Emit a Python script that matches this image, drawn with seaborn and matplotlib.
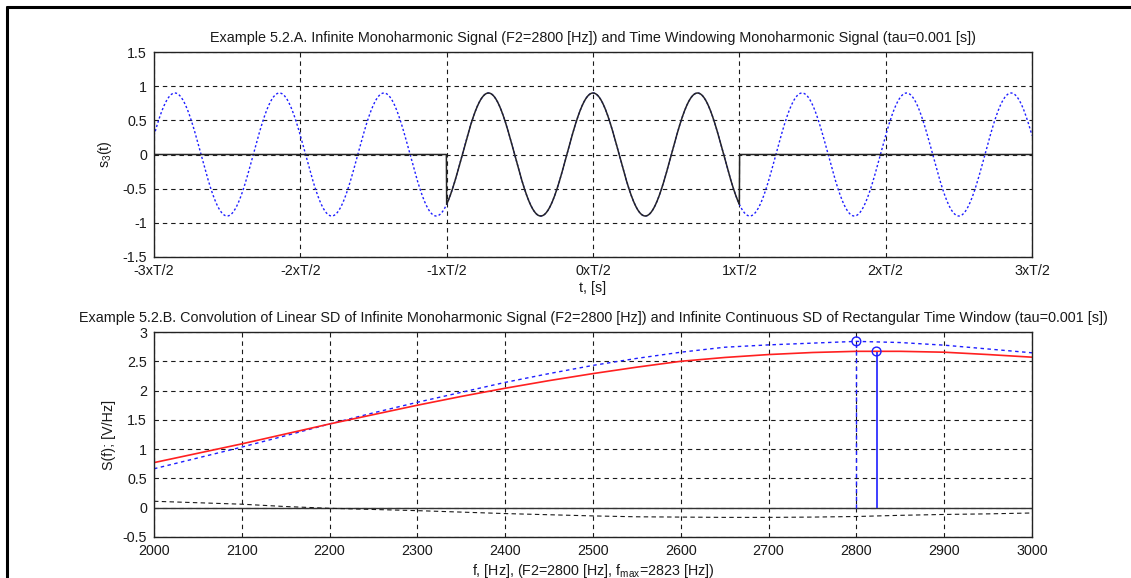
import numpy as np
import pandas as pd
import matplotlib
matplotlib.use("Agg")
import matplotlib.pyplot as plt
from matplotlib.lines import Line2D
import seaborn as sns

# ---------------- data ----------------
# top panel: signal parameters (taken from the chart titles)
F2 = 2800.0          # Hz
tau = 0.001          # s  (window length T)
amp = 0.9            # peak amplitude
t_multiples = [-3, -2, -1, 0, 1, 2, 3]
t_tick_labels = ["-3xT/2", "-2xT/2", "-1xT/2", "0xT/2", "1xT/2", "2xT/2", "3xT/2"]
s_ticks = [-1.5, -1, -0.5, 0, 0.5, 1, 1.5]
s_tick_labels = ["-1.5", "-1", "-0.5", "0", "0.5", "1", "1.5"]

# bottom panel: spectral densities
freq = [2000, 2050, 2100, 2150, 2200, 2250, 2300, 2350, 2400, 2450, 2500,
        2550, 2600, 2650, 2700, 2750, 2800, 2850, 2900, 2950, 3000]
sd_conv = [0.77, 0.93, 1.09, 1.26, 1.43, 1.59, 1.75, 1.90, 2.04, 2.17, 2.29,
           2.40, 2.50, 2.565, 2.615, 2.65, 2.67, 2.67, 2.655, 2.615, 2.57]
sd_window = [0.665, 0.85, 1.035, 1.23, 1.43, 1.62, 1.80, 1.97, 2.14, 2.29, 2.43,
             2.55, 2.655, 2.74, 2.78, 2.81, 2.84, 2.82, 2.775, 2.71, 2.645]
sd_diff = [0.11, 0.085, 0.06, 0.02, -0.01, -0.03, -0.05, -0.075, -0.10, -0.12, -0.14,
           -0.155, -0.16, -0.165, -0.165, -0.16, -0.15, -0.13, -0.115, -0.105, -0.09]
peak_f = [2800, 2823]
peak_S = [2.84, 2.667]
f_ticks = [2000, 2100, 2200, 2300, 2400, 2500, 2600, 2700, 2800, 2900, 3000]
S_ticks = [-0.5, 0, 0.5, 1, 1.5, 2, 2.5, 3]
S_tick_labels = ["-0.5", "0", "0.5", "1", "1.5", "2", "2.5", "3"]

title_a = ("Example 5.2.A. Infinite Monoharmonic Signal (F2=2800 [Hz]) and Time "
           "Windowing Monoharmonic Signal (tau=0.001 [s])")
title_b = ("Example 5.2.B. Convolution of Linear SD of Infinite Monoharmonic Signal "
           "(F2=2800 [Hz]) and Infinite Continuous SD of Rectangular Time Window (tau=0.001 [s])")

# ---------------- style ----------------
sns.set_theme(style="white")
plt.rcParams["font.family"] = ["Liberation Sans", "DejaVu Sans"]
plt.rcParams["mathtext.fontset"] = "custom"
plt.rcParams["mathtext.rm"] = "Liberation Sans"
plt.rcParams["mathtext.it"] = "Liberation Sans"
plt.rcParams["axes.unicode_minus"] = False

FS = 10.3
TFS = 10.4
W, H = 1131, 578
fig = plt.figure(figsize=(W / 100, H / 100), dpi=100)
fig.patch.set_facecolor("white")

# outer frame (cropped figure border)
fig.add_artist(Line2D([7 / W, 1.0], [1 - 7 / H, 1 - 7 / H], color="black", lw=2.2,
                      transform=fig.transFigure))
fig.add_artist(Line2D([7 / W, 7 / W], [0, 1 - 7 / H], color="black", lw=2.2,
                      transform=fig.transFigure))

left = 154 / W
width = (1032 - 154) / W
ax1 = fig.add_axes([left, 1 - 257 / H, width, 205 / H])
ax2 = fig.add_axes([left, 1 - 537 / H, width, 205 / H])

grid_kw = dict(color="#1a1a1a", linestyle=(0, (4, 3.5)), linewidth=0.8)
TXT = "#1a1a1a"


def style_axes(ax):
    ax.set_facecolor("white")
    for sp in ax.spines.values():
        sp.set_visible(True)
        sp.set_color("#222222")
        sp.set_linewidth(1.0)
    ax.grid(True, **grid_kw)
    ax.set_axisbelow(True)
    ax.tick_params(direction="in", length=4, width=0.8, colors="#222222",
                   labelsize=FS, labelcolor=TXT)
    ax.tick_params(axis="x", pad=5)
    ax.tick_params(axis="y", pad=5)


# ---------------- top panel ----------------
t = np.linspace(-1.5 * tau, 1.5 * tau, 3001)
s_inf = amp * np.cos(2 * np.pi * F2 * t)
s_win = np.where(np.abs(t) <= tau / 2 + 1e-12, s_inf, 0.0)
df_top = pd.DataFrame({"t": t, "s_inf": s_inf, "s_win": s_win})

sns.lineplot(data=df_top, x="t", y="s_inf", ax=ax1, color="#1e1eff", lw=1.0,
             linestyle=(0, (1.6, 1.6)), estimator=None, sort=False, zorder=2)
sns.lineplot(data=df_top, x="t", y="s_win", ax=ax1, color="#262626", lw=1.1,
             estimator=None, sort=False, zorder=3)
style_axes(ax1)
ax1.set_xlim(-1.5 * tau, 1.5 * tau)
ax1.set_ylim(-1.5, 1.5)
ax1.set_xticks([m * tau / 2 for m in t_multiples])
ax1.set_xticklabels(t_tick_labels)
ax1.set_yticks(s_ticks)
ax1.set_yticklabels(s_tick_labels)
ax1.set_xlabel("t, [s]", fontsize=FS, labelpad=2, color=TXT)
ax1.set_ylabel(r"s$_3$(t)", fontsize=FS, labelpad=6, color=TXT)
ax1.set_title(title_a, fontsize=TFS, pad=7, color=TXT)

# ---------------- bottom panel ----------------
df_bot = pd.DataFrame({"f": freq, "conv": sd_conv, "win": sd_window, "diff": sd_diff})
ax2.axhline(0, color="#333333", lw=1.0, zorder=2)
sns.lineplot(data=df_bot, x="f", y="diff", ax=ax2, color="#1a1a1a", lw=0.8,
             linestyle=(0, (4, 3)), estimator=None)
sns.lineplot(data=df_bot, x="f", y="win", ax=ax2, color="#1e1eff", lw=1.0,
             linestyle=(0, (2.5, 2.5)), estimator=None)
sns.lineplot(data=df_bot, x="f", y="conv", ax=ax2, color="#ff2020", lw=1.2,
             estimator=None)
ax2.vlines(peak_f[0], 0, peak_S[0], colors="#1e1eff", lw=1.0, linestyles=(0, (3, 2.5)))
ax2.vlines(peak_f[1], 0, peak_S[1], colors="#1e1eff", lw=1.2)
sns.scatterplot(x=peak_f, y=peak_S, ax=ax2, marker="o", s=40,
                facecolors="none", edgecolor="#1e1eff", linewidth=1.0, zorder=5)
style_axes(ax2)
ax2.set_xlim(2000, 3000)
ax2.set_ylim(-0.5, 3)
ax2.set_xticks(f_ticks)
ax2.set_xticklabels([str(v) for v in f_ticks])
ax2.set_yticks(S_ticks)
ax2.set_yticklabels(S_tick_labels)
ax2.set_xlabel(r"f, [Hz], (F2=2800 [Hz], f$_{\rm max}$=2823 [Hz])", fontsize=FS,
               labelpad=3, color=TXT)
ax2.set_ylabel("S(f); [V/Hz]", fontsize=FS, labelpad=5, color=TXT)
ax2.set_title(title_b, fontsize=TFS, pad=7, color=TXT)

fig.savefig("out.png", dpi=100, facecolor="white")
